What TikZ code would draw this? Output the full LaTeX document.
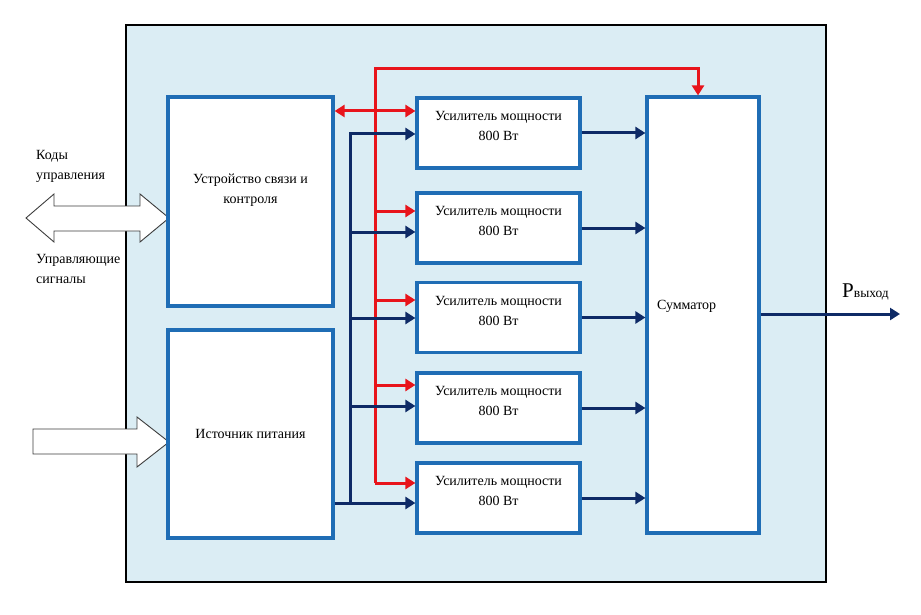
\documentclass[tikz,border=0pt]{standalone}
\usepackage{fontspec}
\setmainfont{Liberation Serif}
\usetikzlibrary{positioning, arrows.meta}
\definecolor{panelBlue}{HTML}{DBEDF4}
\definecolor{blockBlue}{HTML}{1F6DB5}
\definecolor{busNavy}{HTML}{0E2A66}
\definecolor{ctrlRed}{HTML}{E8141B}
\definecolor{shapeGray}{HTML}{3C3C3C}

\begin{document}
\begin{tikzpicture}[x=1pt, y=-1pt, font=\fontsize{14}{20}\selectfont,
  block/.style={draw=blockBlue, line width=3.2pt, fill=white, align=center, inner sep=0pt},
  amp/.style={block, minimum width=163pt, minimum height=70pt, text depth=14pt},
  navyarr/.style={busNavy, line width=3pt, -{Triangle[length=10pt, width=12pt]}},
  redarr/.style={ctrlRed, line width=3pt, -{Triangle[length=10pt, width=12pt]}},
  bigarrow/.style={draw=shapeGray, fill=white, line width=0.9pt},
  note/.style={align=left, inner sep=0pt, anchor=north west,
    font=\fontsize{14}{20.5}\selectfont}]

\useasboundingbox (0,0) rectangle (921,615);
\draw[black, line width=2.2pt, fill=panelBlue] (126,25) rectangle (826,582);

% input arrows on the left
\draw[bigarrow] (26,218) -- (54,194) -- (54,206) -- (140,206) -- (140,194)
  -- (169,218) -- (140,242) -- (140,231) -- (54,231) -- (54,242) -- cycle;
\draw[bigarrow] (33,429) -- (137,429) -- (137,417) -- (169,442)
  -- (137,467) -- (137,454) -- (33,454) -- cycle;
\node[note] (codes) at (36,150) {Коды\\управления};
\node[note] (sigs)  at (36,254) {Управляющие\\сигналы};

% blocks
\node[block, minimum width=165pt, minimum height=209pt, text depth=26pt]
  (dev) at (250.5,201.5) {Устройство связи и\\контроля};
\node[block, minimum width=165pt, minimum height=208pt]
  (pwr) at (250.5,434) {Источник питания};
\node[amp] (a1) at (498.5,133) {Усилитель мощности\\800 Вт};
\node[amp] (a2) at (498.5,228) {Усилитель мощности\\800 Вт};
\node[amp] (a3) at (498.5,317.5) {Усилитель мощности\\800 Вт};
\node[amp] (a4) at (498.5,408) {Усилитель мощности\\800 Вт};
\node[amp] (a5) at (498.5,498) {Усилитель мощности\\800 Вт};
\node[block, minimum height=436pt, text width=92pt, align=left,
  inner sep=10pt, text depth=21pt] (sum) at (703,315) {Сумматор};

% control bus
\coordinate (rb1) at (375,111);
\coordinate (rb2) at (375,211);
\coordinate (rb3) at (375,300);
\coordinate (rb4) at (375,385);
\coordinate (rb5) at (375,483);
\coordinate (rtop) at (698,69);
\draw[redarr] (rb5) |- (rtop) -- (rtop |- sum.north);
\draw[redarr, {Triangle[length=10pt, width=12pt]}-{Triangle[length=10pt, width=12pt]}]
  (dev.east |- rb1) -- (a1.west |- rb1);
\draw[redarr] (rb2) -- (rb2 -| a2.west);
\draw[redarr] (rb3) -- (rb3 -| a3.west);
\draw[redarr] (rb4) -- (rb4 -| a4.west);
\draw[redarr] (rb5) -- (rb5 -| a5.west);

% power bus
\coordinate (nb1) at (350,134);
\coordinate (nb2) at (350,232);
\coordinate (nb3) at (350,318);
\coordinate (nb4) at (350,406);
\coordinate (nb5) at (350,503);
\draw[navyarr] (pwr.east |- nb5) -- (nb5 -| a5.west);
\draw[navyarr] (nb5) |- (nb1 -| a1.west);
\draw[navyarr] (nb2) -- (nb2 -| a2.west);
\draw[navyarr] (nb3) -- (nb3 -| a3.west);
\draw[navyarr] (nb4) -- (nb4 -| a4.west);

% amplifier outputs
\draw[navyarr] (a1.east) -- (a1.east -| sum.west);
\draw[navyarr] (a2.east) -- (a2.east -| sum.west);
\draw[navyarr] (a3.east) -- (a3.east -| sum.west);
\draw[navyarr] (a4.east) -- (a4.east -| sum.west);
\draw[navyarr] (a5.east) -- (a5.east -| sum.west);

% output
\coordinate (pout) at (900,314);
\draw[navyarr] (sum.east |- pout) -- (pout);
\node[anchor=base west, inner sep=0pt] (plabel) at (842,297)
  {{\fontsize{21}{21}\selectfont P}{\fontsize{13.5}{13.5}\selectfont выход}};

\end{tikzpicture}
\end{document}
